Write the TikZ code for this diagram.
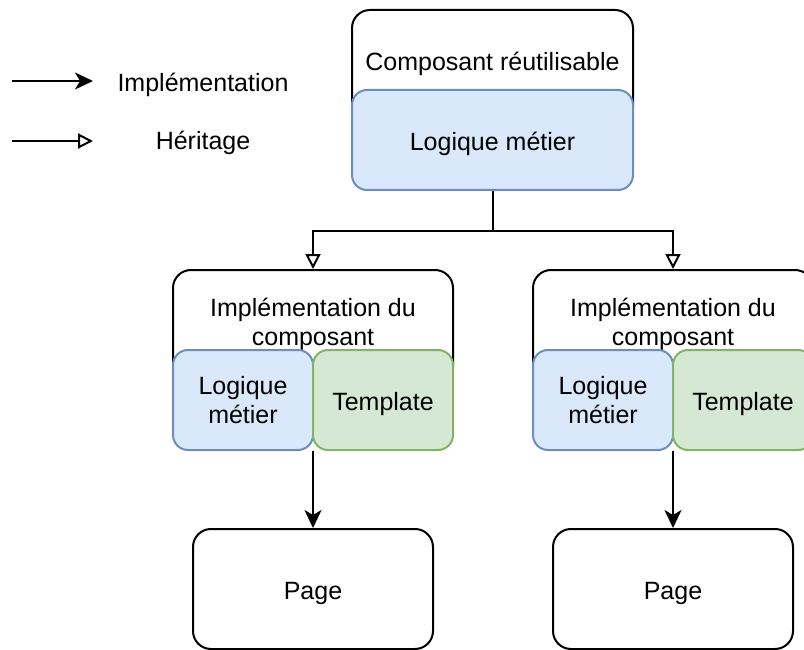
\documentclass[tikz,border=0pt]{standalone}
\usepackage{fontspec}
\setmainfont{Liberation Sans}
\usetikzlibrary{arrows.meta}
\definecolor{logicfill}{HTML}{DAE8FC}
\definecolor{logicline}{HTML}{6C8EBF}
\definecolor{tplfill}{HTML}{D5E8D4}
\definecolor{tplline}{HTML}{82B366}

\begin{document}
\begin{tikzpicture}[x=1pt,y=-1pt,
  every node/.style={font=\fontsize{25}{29}\selectfont, align=center, inner sep=0pt},
  oneline/.style={text height=21pt, text depth=0pt},
  frame/.style={draw=black, line width=2pt, fill=white, rounded corners=18pt},
  pagebox/.style={frame, oneline, minimum width=240pt, minimum height=120pt},
  logic/.style={draw=logicline, fill=logicfill, line width=2pt, rounded corners=15pt},
  tpl/.style={draw=tplline, fill=tplfill, line width=2pt, rounded corners=15pt, oneline},
  impl/.style={-{Stealth[length=18pt,width=17pt,inset=5pt]}, line width=2pt},
  herit/.style={-{Triangle[open,length=15pt,width=15pt]}, line width=2pt}]
\useasboundingbox (0,0) rectangle (804,650);
\clip (0,0) rectangle (804,650);
\coordinate (implFrom) at (12,81); \coordinate (implTo) at (93,81);
\draw[impl] (implFrom) -- (implTo);
\node[oneline] (implLabel) at (203,81) {Implémentation};
\coordinate (heritFrom) at (12,141); \coordinate (heritTo) at (93,141);
\draw[herit] (heritFrom) -- (heritTo);
\node[oneline] (heritLabel) at (203,139) {Héritage};
\node[frame, minimum width=281pt, minimum height=115pt] (compBox) at (492.5,67.5) {};
\node[oneline] (compText) at (492.5,60) {Composant réutilisable};
\node[logic, oneline, minimum width=281pt, minimum height=100pt] (compLogic) at (492.5,140) {Logique métier};
\node[frame, minimum width=280pt, minimum height=115pt] (implA) at (313,327.5) {};
\node (implAText) at (313,324) {Implémentation du\\composant};
\node[logic, minimum width=140pt, minimum height=100pt] (logicA) at (243,400) {Logique\\métier};
\node[tpl, minimum width=140pt, minimum height=100pt] (tplA) at (383,400) {Template};
\node[pagebox] (pageA) at (313,589) {Page};
\node[frame, minimum width=280pt, minimum height=115pt] (implB) at (673,327.5) {};
\node (implBText) at (673,324) {Implémentation du\\composant};
\node[logic, minimum width=140pt, minimum height=100pt] (logicB) at (603,400) {Logique\\métier};
\node[tpl, minimum width=140pt, minimum height=100pt] (tplB) at (743,400) {Template};
\node[pagebox] (pageB) at (673,589) {Page};
\draw[herit] (compLogic.south) -- ++(0,40) -| (implA.north);
\draw[herit] (compLogic.south) -- ++(0,40) -| (implB.north);
\draw[impl] (logicA.south east -| pageA.north) -- (pageA.north);
\draw[impl] (logicB.south east -| pageB.north) -- (pageB.north);
\end{tikzpicture}
\end{document}
